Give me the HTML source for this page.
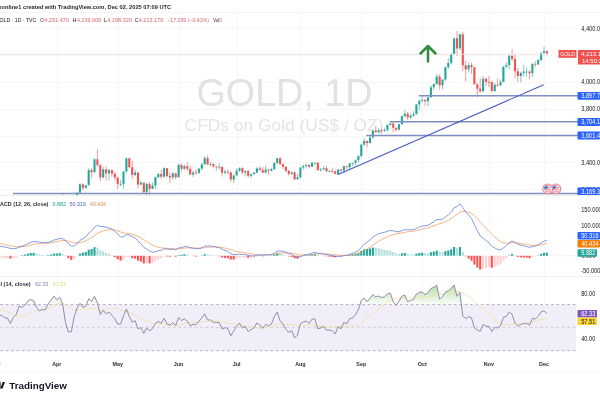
<!DOCTYPE html><html><head><meta charset="utf-8"><title>GOLD 1D chart</title><style>html,body{margin:0;padding:0;background:#fff;}body{width:600px;height:400px;overflow:hidden;}svg{display:block;filter:blur(0.4px);}text{font-family:'Liberation Sans', Arial, sans-serif;}</style></head><body>
<svg width="600" height="400" viewBox="0 0 600 400">
<defs><clipPath id="cp"><rect x="0" y="13" width="576" height="182"/></clipPath><clipPath id="cm"><rect x="0" y="196" width="576" height="80"/></clipPath><clipPath id="cr"><rect x="0" y="277" width="576" height="76"/></clipPath><linearGradient id="ob" gradientUnits="userSpaceOnUse" x1="0" y1="284.1" x2="0" y2="304.6"><stop offset="0" stop-color="#7cc46a" stop-opacity="0.6"/><stop offset="1" stop-color="#7cc46a" stop-opacity="0.02"/></linearGradient></defs>
<rect width="600" height="400" fill="#fff"/>
<rect x="0" y="12" width="600" height="1" fill="#f4f4f4"/>
<rect x="0" y="195" width="600" height="1" fill="#efefef"/>
<rect x="0" y="276" width="600" height="1" fill="#efefef"/>
<rect x="0" y="371" width="600" height="1" fill="#f7f7f7"/>
<line x1="-3.5" y1="13" x2="-3.5" y2="352" stroke="#f7f7f8" stroke-width="1"/><line x1="57.5" y1="13" x2="57.5" y2="352" stroke="#f7f7f8" stroke-width="1"/><line x1="118.5" y1="13" x2="118.5" y2="352" stroke="#f7f7f8" stroke-width="1"/><line x1="179.5" y1="13" x2="179.5" y2="352" stroke="#f7f7f8" stroke-width="1"/><line x1="237.5" y1="13" x2="237.5" y2="352" stroke="#f7f7f8" stroke-width="1"/><line x1="300.5" y1="13" x2="300.5" y2="352" stroke="#f7f7f8" stroke-width="1"/><line x1="361.5" y1="13" x2="361.5" y2="352" stroke="#f7f7f8" stroke-width="1"/><line x1="422.5" y1="13" x2="422.5" y2="352" stroke="#f7f7f8" stroke-width="1"/><line x1="489.5" y1="13" x2="489.5" y2="352" stroke="#f7f7f8" stroke-width="1"/><line x1="544.5" y1="13" x2="544.5" y2="352" stroke="#f7f7f8" stroke-width="1"/><line x1="0" y1="28.5" x2="576" y2="28.5" stroke="#f7f7f8" stroke-width="1"/><line x1="0" y1="55.5" x2="576" y2="55.5" stroke="#f7f7f8" stroke-width="1"/><line x1="0" y1="82.5" x2="576" y2="82.5" stroke="#f7f7f8" stroke-width="1"/><line x1="0" y1="109.5" x2="576" y2="109.5" stroke="#f7f7f8" stroke-width="1"/><line x1="0" y1="136.5" x2="576" y2="136.5" stroke="#f7f7f8" stroke-width="1"/><line x1="0" y1="162.5" x2="576" y2="162.5" stroke="#f7f7f8" stroke-width="1"/><line x1="0" y1="189.5" x2="576" y2="189.5" stroke="#f7f7f8" stroke-width="1"/>
<text x="196.50" y="105.50" font-size="38" fill="#e1e1e1" textLength="176.00" lengthAdjust="spacingAndGlyphs">GOLD, 1D</text>
<text x="184.60" y="130.60" font-size="17.2" fill="#e4e4e4" textLength="198.90" lengthAdjust="spacingAndGlyphs">CFDs on Gold (US$ / OZ)</text>
<g clip-path="url(#cp)"><line x1="56.80" y1="196.12" x2="56.80" y2="202.69" stroke="#ef5350" stroke-width="0.6"/><rect x="55.75" y="199.60" width="2.1" height="1.34" fill="#ef5350"/><line x1="59.70" y1="197.86" x2="59.70" y2="202.02" stroke="#26a69a" stroke-width="0.6"/><rect x="58.65" y="198.13" width="2.1" height="2.82" fill="#26a69a"/><line x1="62.60" y1="193.71" x2="62.60" y2="208.85" stroke="#ef5350" stroke-width="0.6"/><rect x="61.55" y="198.13" width="2.1" height="2.68" fill="#ef5350"/><line x1="65.50" y1="197.86" x2="65.50" y2="214.08" stroke="#ef5350" stroke-width="0.6"/><rect x="64.45" y="200.81" width="2.1" height="10.32" fill="#ef5350"/><line x1="68.40" y1="208.72" x2="68.40" y2="221.99" stroke="#ef5350" stroke-width="0.6"/><rect x="67.35" y="211.13" width="2.1" height="7.37" fill="#ef5350"/><line x1="71.30" y1="213.01" x2="71.30" y2="220.12" stroke="#26a69a" stroke-width="0.6"/><rect x="70.25" y="218.51" width="2.1" height="0.80" fill="#26a69a"/><line x1="74.20" y1="202.82" x2="74.20" y2="221.86" stroke="#26a69a" stroke-width="0.6"/><rect x="73.15" y="204.97" width="2.1" height="13.54" fill="#26a69a"/><line x1="77.10" y1="192.50" x2="77.10" y2="206.44" stroke="#26a69a" stroke-width="0.6"/><rect x="76.05" y="192.63" width="2.1" height="12.33" fill="#26a69a"/><line x1="80.00" y1="183.25" x2="80.00" y2="192.90" stroke="#26a69a" stroke-width="0.6"/><rect x="78.95" y="184.32" width="2.1" height="8.31" fill="#26a69a"/><line x1="82.90" y1="183.25" x2="82.90" y2="190.22" stroke="#ef5350" stroke-width="0.6"/><rect x="81.85" y="184.32" width="2.1" height="3.49" fill="#ef5350"/><line x1="85.80" y1="184.99" x2="85.80" y2="188.75" stroke="#26a69a" stroke-width="0.6"/><rect x="84.75" y="185.26" width="2.1" height="2.55" fill="#26a69a"/><line x1="88.70" y1="168.23" x2="88.70" y2="185.39" stroke="#26a69a" stroke-width="0.6"/><rect x="87.65" y="170.11" width="2.1" height="15.15" fill="#26a69a"/><line x1="91.60" y1="168.10" x2="91.60" y2="178.02" stroke="#ef5350" stroke-width="0.6"/><rect x="90.55" y="170.11" width="2.1" height="2.14" fill="#ef5350"/><line x1="94.50" y1="158.45" x2="94.50" y2="172.52" stroke="#26a69a" stroke-width="0.6"/><rect x="93.45" y="159.25" width="2.1" height="13.00" fill="#26a69a"/><line x1="97.40" y1="149.06" x2="97.40" y2="166.89" stroke="#ef5350" stroke-width="0.6"/><rect x="96.35" y="159.25" width="2.1" height="5.76" fill="#ef5350"/><line x1="100.30" y1="164.35" x2="100.30" y2="181.24" stroke="#ef5350" stroke-width="0.6"/><rect x="99.25" y="165.02" width="2.1" height="12.47" fill="#ef5350"/><line x1="103.20" y1="166.89" x2="103.20" y2="178.16" stroke="#26a69a" stroke-width="0.6"/><rect x="102.15" y="169.31" width="2.1" height="8.18" fill="#26a69a"/><line x1="106.10" y1="166.36" x2="106.10" y2="180.57" stroke="#ef5350" stroke-width="0.6"/><rect x="105.05" y="169.31" width="2.1" height="4.02" fill="#ef5350"/><line x1="109.00" y1="169.04" x2="109.00" y2="180.17" stroke="#26a69a" stroke-width="0.6"/><rect x="107.95" y="170.11" width="2.1" height="3.22" fill="#26a69a"/><line x1="111.90" y1="169.71" x2="111.90" y2="176.95" stroke="#ef5350" stroke-width="0.6"/><rect x="110.85" y="170.11" width="2.1" height="3.49" fill="#ef5350"/><line x1="114.80" y1="172.12" x2="114.80" y2="180.17" stroke="#ef5350" stroke-width="0.6"/><rect x="113.75" y="173.60" width="2.1" height="3.89" fill="#ef5350"/><line x1="117.70" y1="177.22" x2="117.70" y2="189.01" stroke="#ef5350" stroke-width="0.6"/><rect x="116.65" y="177.48" width="2.1" height="6.57" fill="#ef5350"/><line x1="120.60" y1="180.03" x2="120.60" y2="186.33" stroke="#26a69a" stroke-width="0.6"/><rect x="119.55" y="183.92" width="2.1" height="0.80" fill="#26a69a"/><line x1="123.50" y1="171.18" x2="123.50" y2="188.75" stroke="#26a69a" stroke-width="0.6"/><rect x="122.45" y="171.45" width="2.1" height="12.47" fill="#26a69a"/><line x1="126.40" y1="157.51" x2="126.40" y2="173.46" stroke="#26a69a" stroke-width="0.6"/><rect x="125.35" y="158.31" width="2.1" height="13.14" fill="#26a69a"/><line x1="129.30" y1="157.78" x2="129.30" y2="168.37" stroke="#ef5350" stroke-width="0.6"/><rect x="128.25" y="158.31" width="2.1" height="8.85" fill="#ef5350"/><line x1="132.20" y1="160.59" x2="132.20" y2="178.56" stroke="#ef5350" stroke-width="0.6"/><rect x="131.15" y="167.16" width="2.1" height="7.91" fill="#ef5350"/><line x1="135.10" y1="169.44" x2="135.10" y2="175.88" stroke="#26a69a" stroke-width="0.6"/><rect x="134.05" y="172.52" width="2.1" height="2.55" fill="#26a69a"/><line x1="138.00" y1="172.39" x2="138.00" y2="188.34" stroke="#ef5350" stroke-width="0.6"/><rect x="136.95" y="172.52" width="2.1" height="12.07" fill="#ef5350"/><line x1="140.90" y1="180.43" x2="140.90" y2="185.53" stroke="#26a69a" stroke-width="0.6"/><rect x="139.85" y="182.71" width="2.1" height="1.88" fill="#26a69a"/><line x1="143.80" y1="182.18" x2="143.80" y2="193.17" stroke="#ef5350" stroke-width="0.6"/><rect x="142.75" y="182.71" width="2.1" height="9.52" fill="#ef5350"/><line x1="146.70" y1="182.31" x2="146.70" y2="199.87" stroke="#26a69a" stroke-width="0.6"/><rect x="145.65" y="183.92" width="2.1" height="8.31" fill="#26a69a"/><line x1="149.60" y1="182.31" x2="149.60" y2="195.45" stroke="#ef5350" stroke-width="0.6"/><rect x="148.55" y="183.92" width="2.1" height="4.96" fill="#ef5350"/><line x1="152.50" y1="182.58" x2="152.50" y2="188.48" stroke="#26a69a" stroke-width="0.6"/><rect x="151.45" y="185.39" width="2.1" height="3.49" fill="#26a69a"/><line x1="155.40" y1="176.41" x2="155.40" y2="188.61" stroke="#26a69a" stroke-width="0.6"/><rect x="154.35" y="177.22" width="2.1" height="8.18" fill="#26a69a"/><line x1="158.30" y1="172.52" x2="158.30" y2="177.89" stroke="#26a69a" stroke-width="0.6"/><rect x="157.25" y="174.00" width="2.1" height="3.22" fill="#26a69a"/><line x1="161.20" y1="169.84" x2="161.20" y2="178.96" stroke="#ef5350" stroke-width="0.6"/><rect x="160.15" y="174.00" width="2.1" height="2.68" fill="#ef5350"/><line x1="164.10" y1="167.16" x2="164.10" y2="177.62" stroke="#26a69a" stroke-width="0.6"/><rect x="163.05" y="168.23" width="2.1" height="8.45" fill="#26a69a"/><line x1="167.00" y1="168.10" x2="167.00" y2="177.89" stroke="#ef5350" stroke-width="0.6"/><rect x="165.95" y="168.23" width="2.1" height="7.64" fill="#ef5350"/><line x1="169.90" y1="172.52" x2="169.90" y2="183.25" stroke="#ef5350" stroke-width="0.6"/><rect x="168.85" y="175.88" width="2.1" height="1.61" fill="#ef5350"/><line x1="172.80" y1="171.85" x2="172.80" y2="179.76" stroke="#26a69a" stroke-width="0.6"/><rect x="171.75" y="173.46" width="2.1" height="4.02" fill="#26a69a"/><line x1="175.70" y1="172.52" x2="175.70" y2="178.96" stroke="#ef5350" stroke-width="0.6"/><rect x="174.65" y="173.46" width="2.1" height="3.89" fill="#ef5350"/><line x1="178.60" y1="163.54" x2="178.60" y2="176.41" stroke="#26a69a" stroke-width="0.6"/><rect x="177.55" y="165.02" width="2.1" height="12.33" fill="#26a69a"/><line x1="181.50" y1="163.54" x2="181.50" y2="171.45" stroke="#ef5350" stroke-width="0.6"/><rect x="180.45" y="165.02" width="2.1" height="3.75" fill="#ef5350"/><line x1="184.40" y1="164.48" x2="184.40" y2="170.11" stroke="#26a69a" stroke-width="0.6"/><rect x="183.35" y="166.09" width="2.1" height="2.68" fill="#26a69a"/><line x1="187.30" y1="162.07" x2="187.30" y2="170.78" stroke="#ef5350" stroke-width="0.6"/><rect x="186.25" y="166.09" width="2.1" height="2.68" fill="#ef5350"/><line x1="190.20" y1="165.82" x2="190.20" y2="174.94" stroke="#ef5350" stroke-width="0.6"/><rect x="189.15" y="168.77" width="2.1" height="5.76" fill="#ef5350"/><line x1="193.10" y1="170.51" x2="193.10" y2="176.95" stroke="#26a69a" stroke-width="0.6"/><rect x="192.05" y="172.52" width="2.1" height="2.01" fill="#26a69a"/><line x1="196.00" y1="169.31" x2="196.00" y2="174.80" stroke="#ef5350" stroke-width="0.6"/><rect x="194.95" y="172.52" width="2.1" height="0.80" fill="#ef5350"/><line x1="198.90" y1="167.83" x2="198.90" y2="174.00" stroke="#26a69a" stroke-width="0.6"/><rect x="197.85" y="168.64" width="2.1" height="4.16" fill="#26a69a"/><line x1="201.80" y1="162.74" x2="201.80" y2="170.65" stroke="#26a69a" stroke-width="0.6"/><rect x="200.75" y="164.35" width="2.1" height="4.29" fill="#26a69a"/><line x1="204.70" y1="156.30" x2="204.70" y2="164.48" stroke="#26a69a" stroke-width="0.6"/><rect x="203.65" y="158.18" width="2.1" height="6.17" fill="#26a69a"/><line x1="207.60" y1="155.50" x2="207.60" y2="165.02" stroke="#ef5350" stroke-width="0.6"/><rect x="206.55" y="158.18" width="2.1" height="6.30" fill="#ef5350"/><line x1="210.50" y1="162.07" x2="210.50" y2="166.09" stroke="#26a69a" stroke-width="0.6"/><rect x="209.45" y="164.08" width="2.1" height="0.80" fill="#26a69a"/><line x1="213.40" y1="163.14" x2="213.40" y2="167.56" stroke="#ef5350" stroke-width="0.6"/><rect x="212.35" y="164.08" width="2.1" height="2.41" fill="#ef5350"/><line x1="216.30" y1="165.82" x2="216.30" y2="170.51" stroke="#ef5350" stroke-width="0.6"/><rect x="215.25" y="166.49" width="2.1" height="0.80" fill="#ef5350"/><line x1="219.20" y1="162.74" x2="219.20" y2="169.58" stroke="#26a69a" stroke-width="0.6"/><rect x="218.15" y="166.76" width="2.1" height="0.80" fill="#26a69a"/><line x1="222.10" y1="166.49" x2="222.10" y2="176.55" stroke="#ef5350" stroke-width="0.6"/><rect x="221.05" y="166.76" width="2.1" height="6.03" fill="#ef5350"/><line x1="225.00" y1="169.58" x2="225.00" y2="174.40" stroke="#26a69a" stroke-width="0.6"/><rect x="223.95" y="171.59" width="2.1" height="1.21" fill="#26a69a"/><line x1="227.90" y1="169.17" x2="227.90" y2="174.54" stroke="#ef5350" stroke-width="0.6"/><rect x="226.85" y="171.59" width="2.1" height="0.80" fill="#ef5350"/><line x1="230.80" y1="172.12" x2="230.80" y2="181.91" stroke="#ef5350" stroke-width="0.6"/><rect x="229.75" y="172.26" width="2.1" height="7.24" fill="#ef5350"/><line x1="233.70" y1="174.67" x2="233.70" y2="182.98" stroke="#26a69a" stroke-width="0.6"/><rect x="232.65" y="175.47" width="2.1" height="4.02" fill="#26a69a"/><line x1="236.60" y1="168.10" x2="236.60" y2="176.41" stroke="#26a69a" stroke-width="0.6"/><rect x="235.55" y="170.78" width="2.1" height="4.69" fill="#26a69a"/><line x1="239.50" y1="167.16" x2="239.50" y2="172.12" stroke="#26a69a" stroke-width="0.6"/><rect x="238.45" y="168.23" width="2.1" height="2.55" fill="#26a69a"/><line x1="242.40" y1="167.16" x2="242.40" y2="174.40" stroke="#ef5350" stroke-width="0.6"/><rect x="241.35" y="168.23" width="2.1" height="4.16" fill="#ef5350"/><line x1="245.30" y1="170.25" x2="245.30" y2="176.41" stroke="#26a69a" stroke-width="0.6"/><rect x="244.25" y="171.05" width="2.1" height="1.34" fill="#26a69a"/><line x1="248.20" y1="169.84" x2="248.20" y2="177.62" stroke="#ef5350" stroke-width="0.6"/><rect x="247.15" y="171.05" width="2.1" height="4.69" fill="#ef5350"/><line x1="251.10" y1="173.60" x2="251.10" y2="178.29" stroke="#26a69a" stroke-width="0.6"/><rect x="250.05" y="174.13" width="2.1" height="1.61" fill="#26a69a"/><line x1="254.00" y1="171.85" x2="254.00" y2="174.54" stroke="#26a69a" stroke-width="0.6"/><rect x="252.95" y="172.66" width="2.1" height="1.47" fill="#26a69a"/><line x1="256.90" y1="166.76" x2="256.90" y2="172.93" stroke="#26a69a" stroke-width="0.6"/><rect x="255.85" y="168.50" width="2.1" height="4.16" fill="#26a69a"/><line x1="259.80" y1="165.82" x2="259.80" y2="170.51" stroke="#ef5350" stroke-width="0.6"/><rect x="258.75" y="168.50" width="2.1" height="1.61" fill="#ef5350"/><line x1="262.70" y1="167.03" x2="262.70" y2="173.19" stroke="#ef5350" stroke-width="0.6"/><rect x="261.65" y="170.11" width="2.1" height="2.55" fill="#ef5350"/><line x1="265.60" y1="165.55" x2="265.60" y2="173.33" stroke="#26a69a" stroke-width="0.6"/><rect x="264.55" y="169.58" width="2.1" height="3.08" fill="#26a69a"/><line x1="268.50" y1="168.90" x2="268.50" y2="174.54" stroke="#ef5350" stroke-width="0.6"/><rect x="267.45" y="169.58" width="2.1" height="1.07" fill="#ef5350"/><line x1="271.40" y1="167.70" x2="271.40" y2="171.59" stroke="#26a69a" stroke-width="0.6"/><rect x="270.35" y="169.17" width="2.1" height="1.47" fill="#26a69a"/><line x1="274.30" y1="162.20" x2="274.30" y2="169.84" stroke="#26a69a" stroke-width="0.6"/><rect x="273.25" y="162.87" width="2.1" height="6.30" fill="#26a69a"/><line x1="277.20" y1="157.91" x2="277.20" y2="164.75" stroke="#26a69a" stroke-width="0.6"/><rect x="276.15" y="158.31" width="2.1" height="4.56" fill="#26a69a"/><line x1="280.10" y1="157.24" x2="280.10" y2="165.02" stroke="#ef5350" stroke-width="0.6"/><rect x="279.05" y="158.31" width="2.1" height="5.90" fill="#ef5350"/><line x1="283.00" y1="163.41" x2="283.00" y2="169.04" stroke="#ef5350" stroke-width="0.6"/><rect x="281.95" y="164.21" width="2.1" height="2.55" fill="#ef5350"/><line x1="285.90" y1="166.09" x2="285.90" y2="172.52" stroke="#ef5350" stroke-width="0.6"/><rect x="284.85" y="166.76" width="2.1" height="4.16" fill="#ef5350"/><line x1="288.80" y1="169.84" x2="288.80" y2="175.74" stroke="#ef5350" stroke-width="0.6"/><rect x="287.75" y="170.92" width="2.1" height="2.95" fill="#ef5350"/><line x1="291.70" y1="171.32" x2="291.70" y2="174.94" stroke="#26a69a" stroke-width="0.6"/><rect x="290.65" y="172.39" width="2.1" height="1.47" fill="#26a69a"/><line x1="294.60" y1="171.32" x2="294.60" y2="180.17" stroke="#ef5350" stroke-width="0.6"/><rect x="293.55" y="172.39" width="2.1" height="6.97" fill="#ef5350"/><line x1="297.50" y1="173.87" x2="297.50" y2="178.29" stroke="#26a69a" stroke-width="0.6"/><rect x="296.45" y="177.22" width="2.1" height="2.14" fill="#26a69a"/><line x1="300.40" y1="167.43" x2="300.40" y2="178.56" stroke="#26a69a" stroke-width="0.6"/><rect x="299.35" y="167.43" width="2.1" height="9.79" fill="#26a69a"/><line x1="303.30" y1="164.48" x2="303.30" y2="169.58" stroke="#26a69a" stroke-width="0.6"/><rect x="302.25" y="165.96" width="2.1" height="1.47" fill="#26a69a"/><line x1="306.20" y1="163.81" x2="306.20" y2="168.64" stroke="#26a69a" stroke-width="0.6"/><rect x="305.15" y="165.02" width="2.1" height="0.94" fill="#26a69a"/><line x1="309.10" y1="164.21" x2="309.10" y2="168.23" stroke="#ef5350" stroke-width="0.6"/><rect x="308.05" y="165.02" width="2.1" height="1.74" fill="#ef5350"/><line x1="312.00" y1="161.26" x2="312.00" y2="167.03" stroke="#26a69a" stroke-width="0.6"/><rect x="310.95" y="162.87" width="2.1" height="3.89" fill="#26a69a"/><line x1="314.90" y1="162.47" x2="314.90" y2="165.42" stroke="#26a69a" stroke-width="0.6"/><rect x="313.85" y="162.74" width="2.1" height="0.80" fill="#26a69a"/><line x1="317.80" y1="161.93" x2="317.80" y2="170.38" stroke="#ef5350" stroke-width="0.6"/><rect x="316.75" y="162.74" width="2.1" height="7.51" fill="#ef5350"/><line x1="320.70" y1="168.10" x2="320.70" y2="171.72" stroke="#26a69a" stroke-width="0.6"/><rect x="319.65" y="169.44" width="2.1" height="0.80" fill="#26a69a"/><line x1="323.60" y1="165.82" x2="323.60" y2="169.71" stroke="#26a69a" stroke-width="0.6"/><rect x="322.55" y="168.23" width="2.1" height="1.21" fill="#26a69a"/><line x1="326.50" y1="165.82" x2="326.50" y2="171.85" stroke="#ef5350" stroke-width="0.6"/><rect x="325.45" y="168.23" width="2.1" height="2.95" fill="#ef5350"/><line x1="329.40" y1="169.71" x2="329.40" y2="171.85" stroke="#26a69a" stroke-width="0.6"/><rect x="328.35" y="171.05" width="2.1" height="0.80" fill="#26a69a"/><line x1="332.30" y1="168.10" x2="332.30" y2="172.79" stroke="#ef5350" stroke-width="0.6"/><rect x="331.25" y="171.05" width="2.1" height="0.80" fill="#ef5350"/><line x1="335.20" y1="169.84" x2="335.20" y2="174.40" stroke="#ef5350" stroke-width="0.6"/><rect x="334.15" y="171.59" width="2.1" height="2.28" fill="#ef5350"/><line x1="338.10" y1="169.17" x2="338.10" y2="174.40" stroke="#26a69a" stroke-width="0.6"/><rect x="337.05" y="169.44" width="2.1" height="4.42" fill="#26a69a"/><line x1="341.00" y1="169.04" x2="341.00" y2="172.66" stroke="#ef5350" stroke-width="0.6"/><rect x="339.95" y="169.44" width="2.1" height="1.21" fill="#ef5350"/><line x1="343.90" y1="165.29" x2="343.90" y2="173.06" stroke="#26a69a" stroke-width="0.6"/><rect x="342.85" y="166.22" width="2.1" height="4.42" fill="#26a69a"/><line x1="346.80" y1="165.69" x2="346.80" y2="169.04" stroke="#ef5350" stroke-width="0.6"/><rect x="345.75" y="166.22" width="2.1" height="0.94" fill="#ef5350"/><line x1="349.70" y1="163.41" x2="349.70" y2="169.04" stroke="#26a69a" stroke-width="0.6"/><rect x="348.65" y="163.41" width="2.1" height="3.75" fill="#26a69a"/><line x1="352.60" y1="162.74" x2="352.60" y2="166.36" stroke="#26a69a" stroke-width="0.6"/><rect x="351.55" y="162.87" width="2.1" height="0.80" fill="#26a69a"/><line x1="355.50" y1="159.39" x2="355.50" y2="165.29" stroke="#26a69a" stroke-width="0.6"/><rect x="354.45" y="160.33" width="2.1" height="2.55" fill="#26a69a"/><line x1="358.40" y1="155.23" x2="358.40" y2="162.47" stroke="#26a69a" stroke-width="0.6"/><rect x="357.35" y="156.04" width="2.1" height="4.29" fill="#26a69a"/><line x1="361.30" y1="143.70" x2="361.30" y2="157.64" stroke="#26a69a" stroke-width="0.6"/><rect x="360.25" y="144.64" width="2.1" height="11.40" fill="#26a69a"/><line x1="364.20" y1="138.61" x2="364.20" y2="145.85" stroke="#26a69a" stroke-width="0.6"/><rect x="363.15" y="141.02" width="2.1" height="3.62" fill="#26a69a"/><line x1="367.10" y1="140.48" x2="367.10" y2="147.59" stroke="#ef5350" stroke-width="0.6"/><rect x="366.05" y="141.02" width="2.1" height="2.01" fill="#ef5350"/><line x1="370.00" y1="135.66" x2="370.00" y2="143.70" stroke="#26a69a" stroke-width="0.6"/><rect x="368.95" y="137.40" width="2.1" height="5.63" fill="#26a69a"/><line x1="372.90" y1="129.49" x2="372.90" y2="138.61" stroke="#26a69a" stroke-width="0.6"/><rect x="371.85" y="130.83" width="2.1" height="6.57" fill="#26a69a"/><line x1="375.80" y1="125.74" x2="375.80" y2="132.98" stroke="#ef5350" stroke-width="0.6"/><rect x="374.75" y="130.83" width="2.1" height="1.34" fill="#ef5350"/><line x1="378.70" y1="128.02" x2="378.70" y2="132.98" stroke="#26a69a" stroke-width="0.6"/><rect x="377.65" y="130.30" width="2.1" height="1.88" fill="#26a69a"/><line x1="381.60" y1="128.42" x2="381.60" y2="134.32" stroke="#ef5350" stroke-width="0.6"/><rect x="380.55" y="130.30" width="2.1" height="0.80" fill="#ef5350"/><line x1="384.50" y1="128.28" x2="384.50" y2="131.64" stroke="#26a69a" stroke-width="0.6"/><rect x="383.45" y="129.89" width="2.1" height="1.21" fill="#26a69a"/><line x1="387.40" y1="124.26" x2="387.40" y2="131.37" stroke="#26a69a" stroke-width="0.6"/><rect x="386.35" y="125.07" width="2.1" height="4.83" fill="#26a69a"/><line x1="390.30" y1="121.85" x2="390.30" y2="125.60" stroke="#26a69a" stroke-width="0.6"/><rect x="389.25" y="123.59" width="2.1" height="1.47" fill="#26a69a"/><line x1="393.20" y1="121.31" x2="393.20" y2="132.17" stroke="#ef5350" stroke-width="0.6"/><rect x="392.15" y="123.59" width="2.1" height="4.16" fill="#ef5350"/><line x1="396.10" y1="127.48" x2="396.10" y2="131.90" stroke="#ef5350" stroke-width="0.6"/><rect x="395.05" y="127.75" width="2.1" height="1.88" fill="#ef5350"/><line x1="399.00" y1="123.73" x2="399.00" y2="130.30" stroke="#26a69a" stroke-width="0.6"/><rect x="397.95" y="124.26" width="2.1" height="5.36" fill="#26a69a"/><line x1="401.90" y1="115.68" x2="401.90" y2="124.53" stroke="#26a69a" stroke-width="0.6"/><rect x="400.85" y="116.09" width="2.1" height="8.18" fill="#26a69a"/><line x1="404.80" y1="110.05" x2="404.80" y2="117.29" stroke="#26a69a" stroke-width="0.6"/><rect x="403.75" y="113.81" width="2.1" height="2.28" fill="#26a69a"/><line x1="407.70" y1="111.66" x2="407.70" y2="119.97" stroke="#ef5350" stroke-width="0.6"/><rect x="406.65" y="113.81" width="2.1" height="3.62" fill="#ef5350"/><line x1="410.60" y1="114.07" x2="410.60" y2="119.30" stroke="#26a69a" stroke-width="0.6"/><rect x="409.55" y="115.68" width="2.1" height="1.74" fill="#26a69a"/><line x1="413.50" y1="111.26" x2="413.50" y2="116.89" stroke="#26a69a" stroke-width="0.6"/><rect x="412.45" y="114.21" width="2.1" height="1.47" fill="#26a69a"/><line x1="416.40" y1="104.15" x2="416.40" y2="114.34" stroke="#26a69a" stroke-width="0.6"/><rect x="415.35" y="104.42" width="2.1" height="9.79" fill="#26a69a"/><line x1="419.30" y1="99.33" x2="419.30" y2="109.78" stroke="#26a69a" stroke-width="0.6"/><rect x="418.25" y="100.94" width="2.1" height="3.49" fill="#26a69a"/><line x1="422.20" y1="96.11" x2="422.20" y2="102.14" stroke="#26a69a" stroke-width="0.6"/><rect x="421.15" y="100.00" width="2.1" height="0.94" fill="#26a69a"/><line x1="425.10" y1="98.79" x2="425.10" y2="106.30" stroke="#ef5350" stroke-width="0.6"/><rect x="424.05" y="100.00" width="2.1" height="1.34" fill="#ef5350"/><line x1="428.00" y1="96.91" x2="428.00" y2="106.03" stroke="#26a69a" stroke-width="0.6"/><rect x="426.95" y="97.32" width="2.1" height="4.02" fill="#26a69a"/><line x1="430.90" y1="85.12" x2="430.90" y2="97.58" stroke="#26a69a" stroke-width="0.6"/><rect x="429.85" y="87.26" width="2.1" height="10.05" fill="#26a69a"/><line x1="433.80" y1="83.37" x2="433.80" y2="90.08" stroke="#26a69a" stroke-width="0.6"/><rect x="432.75" y="84.04" width="2.1" height="3.22" fill="#26a69a"/><line x1="436.70" y1="74.12" x2="436.70" y2="84.31" stroke="#26a69a" stroke-width="0.6"/><rect x="435.65" y="76.54" width="2.1" height="7.51" fill="#26a69a"/><line x1="439.60" y1="74.12" x2="439.60" y2="89.54" stroke="#ef5350" stroke-width="0.6"/><rect x="438.55" y="76.54" width="2.1" height="8.71" fill="#ef5350"/><line x1="442.50" y1="79.08" x2="442.50" y2="89.14" stroke="#26a69a" stroke-width="0.6"/><rect x="441.45" y="79.62" width="2.1" height="5.63" fill="#26a69a"/><line x1="445.40" y1="66.48" x2="445.40" y2="80.96" stroke="#26a69a" stroke-width="0.6"/><rect x="444.35" y="67.29" width="2.1" height="12.33" fill="#26a69a"/><line x1="448.30" y1="58.04" x2="448.30" y2="69.03" stroke="#26a69a" stroke-width="0.6"/><rect x="447.25" y="63.00" width="2.1" height="4.29" fill="#26a69a"/><line x1="451.20" y1="52.81" x2="451.20" y2="64.61" stroke="#26a69a" stroke-width="0.6"/><rect x="450.15" y="54.02" width="2.1" height="8.98" fill="#26a69a"/><line x1="454.10" y1="38.33" x2="454.10" y2="54.55" stroke="#26a69a" stroke-width="0.6"/><rect x="453.05" y="38.33" width="2.1" height="15.69" fill="#26a69a"/><line x1="457.00" y1="30.96" x2="457.00" y2="56.16" stroke="#ef5350" stroke-width="0.6"/><rect x="455.95" y="38.33" width="2.1" height="10.05" fill="#ef5350"/><line x1="459.90" y1="33.91" x2="459.90" y2="50.13" stroke="#26a69a" stroke-width="0.6"/><rect x="458.85" y="34.31" width="2.1" height="14.08" fill="#26a69a"/><line x1="462.80" y1="31.76" x2="462.80" y2="71.04" stroke="#ef5350" stroke-width="0.6"/><rect x="461.75" y="34.31" width="2.1" height="30.97" fill="#ef5350"/><line x1="465.70" y1="60.32" x2="465.70" y2="81.50" stroke="#ef5350" stroke-width="0.6"/><rect x="464.65" y="65.28" width="2.1" height="4.02" fill="#ef5350"/><line x1="468.60" y1="62.06" x2="468.60" y2="72.65" stroke="#26a69a" stroke-width="0.6"/><rect x="467.55" y="65.14" width="2.1" height="4.16" fill="#26a69a"/><line x1="471.50" y1="62.46" x2="471.50" y2="73.99" stroke="#ef5350" stroke-width="0.6"/><rect x="470.45" y="65.14" width="2.1" height="2.01" fill="#ef5350"/><line x1="474.40" y1="67.02" x2="474.40" y2="83.78" stroke="#ef5350" stroke-width="0.6"/><rect x="473.35" y="67.15" width="2.1" height="17.29" fill="#ef5350"/><line x1="477.30" y1="82.97" x2="477.30" y2="97.32" stroke="#ef5350" stroke-width="0.6"/><rect x="476.25" y="84.45" width="2.1" height="4.16" fill="#ef5350"/><line x1="480.20" y1="78.01" x2="480.20" y2="93.03" stroke="#ef5350" stroke-width="0.6"/><rect x="479.15" y="88.60" width="2.1" height="2.68" fill="#ef5350"/><line x1="483.10" y1="75.87" x2="483.10" y2="91.69" stroke="#26a69a" stroke-width="0.6"/><rect x="482.05" y="78.82" width="2.1" height="12.47" fill="#26a69a"/><line x1="486.00" y1="77.48" x2="486.00" y2="86.06" stroke="#ef5350" stroke-width="0.6"/><rect x="484.95" y="78.82" width="2.1" height="2.95" fill="#ef5350"/><line x1="488.90" y1="76.14" x2="488.90" y2="87.26" stroke="#ef5350" stroke-width="0.6"/><rect x="487.85" y="81.77" width="2.1" height="0.80" fill="#ef5350"/><line x1="491.80" y1="80.43" x2="491.80" y2="91.42" stroke="#ef5350" stroke-width="0.6"/><rect x="490.75" y="82.03" width="2.1" height="9.12" fill="#ef5350"/><line x1="494.70" y1="82.84" x2="494.70" y2="91.69" stroke="#26a69a" stroke-width="0.6"/><rect x="493.65" y="84.72" width="2.1" height="6.43" fill="#26a69a"/><line x1="497.60" y1="78.41" x2="497.60" y2="86.86" stroke="#ef5350" stroke-width="0.6"/><rect x="496.55" y="84.72" width="2.1" height="0.80" fill="#ef5350"/><line x1="500.50" y1="79.49" x2="500.50" y2="86.32" stroke="#26a69a" stroke-width="0.6"/><rect x="499.45" y="82.03" width="2.1" height="3.08" fill="#26a69a"/><line x1="503.40" y1="66.48" x2="503.40" y2="82.03" stroke="#26a69a" stroke-width="0.6"/><rect x="502.35" y="66.62" width="2.1" height="15.42" fill="#26a69a"/><line x1="506.30" y1="62.06" x2="506.30" y2="68.36" stroke="#26a69a" stroke-width="0.6"/><rect x="505.25" y="65.01" width="2.1" height="1.61" fill="#26a69a"/><line x1="509.20" y1="54.02" x2="509.20" y2="69.43" stroke="#26a69a" stroke-width="0.6"/><rect x="508.15" y="55.89" width="2.1" height="9.12" fill="#26a69a"/><line x1="512.10" y1="49.19" x2="512.10" y2="61.25" stroke="#ef5350" stroke-width="0.6"/><rect x="511.05" y="55.89" width="2.1" height="3.08" fill="#ef5350"/><line x1="515.00" y1="53.88" x2="515.00" y2="77.74" stroke="#ef5350" stroke-width="0.6"/><rect x="513.95" y="58.98" width="2.1" height="12.33" fill="#ef5350"/><line x1="517.90" y1="67.96" x2="517.90" y2="81.77" stroke="#ef5350" stroke-width="0.6"/><rect x="516.85" y="71.31" width="2.1" height="4.69" fill="#ef5350"/><line x1="520.80" y1="71.58" x2="520.80" y2="82.30" stroke="#26a69a" stroke-width="0.6"/><rect x="519.75" y="72.92" width="2.1" height="3.08" fill="#26a69a"/><line x1="523.70" y1="64.61" x2="523.70" y2="76.67" stroke="#26a69a" stroke-width="0.6"/><rect x="522.65" y="71.58" width="2.1" height="1.34" fill="#26a69a"/><line x1="526.60" y1="67.42" x2="526.60" y2="76.67" stroke="#26a69a" stroke-width="0.6"/><rect x="525.55" y="71.58" width="2.1" height="0.80" fill="#26a69a"/><line x1="529.50" y1="70.10" x2="529.50" y2="79.35" stroke="#ef5350" stroke-width="0.6"/><rect x="528.45" y="71.58" width="2.1" height="1.74" fill="#ef5350"/><line x1="532.40" y1="63.40" x2="532.40" y2="76.94" stroke="#26a69a" stroke-width="0.6"/><rect x="531.35" y="63.80" width="2.1" height="9.52" fill="#26a69a"/><line x1="535.30" y1="61.12" x2="535.30" y2="67.56" stroke="#ef5350" stroke-width="0.6"/><rect x="534.25" y="63.80" width="2.1" height="0.80" fill="#ef5350"/><line x1="538.20" y1="59.24" x2="538.20" y2="64.87" stroke="#26a69a" stroke-width="0.6"/><rect x="537.15" y="60.05" width="2.1" height="4.42" fill="#26a69a"/><line x1="541.10" y1="52.81" x2="541.10" y2="61.12" stroke="#26a69a" stroke-width="0.6"/><rect x="540.05" y="52.81" width="2.1" height="7.24" fill="#26a69a"/><line x1="544.00" y1="46.51" x2="544.00" y2="55.22" stroke="#26a69a" stroke-width="0.6"/><rect x="542.95" y="51.14" width="2.1" height="1.67" fill="#26a69a"/><line x1="546.90" y1="50.40" x2="546.90" y2="55.45" stroke="#ef5350" stroke-width="0.6"/><rect x="545.85" y="51.00" width="2.1" height="2.45" fill="#ef5350"/></g>
<line x1="0" y1="54.3" x2="545" y2="54.3" stroke="#efe2e2" stroke-width="0.9"/>
<line x1="12.9" y1="193.40" x2="578" y2="193.40" stroke="#7b8fc0" stroke-width="1.5"/>
<line x1="366.3" y1="135.47" x2="578" y2="135.47" stroke="#7b8fc0" stroke-width="1.5"/>
<line x1="390" y1="121.70" x2="578" y2="121.70" stroke="#7b8fc0" stroke-width="1.5"/>
<line x1="418.9" y1="95.75" x2="578" y2="95.75" stroke="#7b8fc0" stroke-width="1.5"/>
<line x1="337.5" y1="174.8" x2="543.7" y2="84.8" stroke="#4459c2" stroke-width="1.05"/>
<path d="M420.5,53.5 L428,46 L435.5,53.5 M428,46.5 L428,61.5" stroke="#2f8a3c" stroke-width="2.5" fill="none" stroke-linecap="round" stroke-linejoin="round"/>
<g clip-path="url(#cm)"><rect x="-5.15" y="255.75" width="2.1" height="3.69" fill="#ffcdd2"/><rect x="-2.25" y="255.75" width="2.1" height="3.12" fill="#ffcdd2"/><rect x="0.65" y="255.75" width="2.1" height="2.67" fill="#ffcdd2"/><rect x="3.55" y="255.75" width="2.1" height="2.54" fill="#ffcdd2"/><rect x="6.45" y="255.75" width="2.1" height="2.44" fill="#ffcdd2"/><rect x="9.35" y="255.75" width="2.1" height="2.74" fill="#ff5252"/><rect x="12.25" y="255.75" width="2.1" height="2.33" fill="#ffcdd2"/><rect x="15.15" y="255.75" width="2.1" height="1.73" fill="#ffcdd2"/><rect x="18.05" y="255.75" width="2.1" height="0.30" fill="#ffcdd2"/><rect x="20.95" y="255.27" width="2.1" height="0.48" fill="#26a69a"/><rect x="23.85" y="254.58" width="2.1" height="1.17" fill="#26a69a"/><rect x="26.75" y="253.63" width="2.1" height="2.12" fill="#26a69a"/><rect x="29.65" y="252.98" width="2.1" height="2.77" fill="#26a69a"/><rect x="32.55" y="252.90" width="2.1" height="2.85" fill="#26a69a"/><rect x="35.45" y="253.50" width="2.1" height="2.25" fill="#b2dfdb"/><rect x="38.35" y="254.32" width="2.1" height="1.43" fill="#b2dfdb"/><rect x="41.25" y="254.87" width="2.1" height="0.88" fill="#b2dfdb"/><rect x="44.15" y="255.39" width="2.1" height="0.36" fill="#b2dfdb"/><rect x="47.05" y="255.11" width="2.1" height="0.64" fill="#26a69a"/><rect x="49.95" y="254.54" width="2.1" height="1.21" fill="#26a69a"/><rect x="52.85" y="253.60" width="2.1" height="2.15" fill="#26a69a"/><rect x="55.75" y="253.46" width="2.1" height="2.29" fill="#26a69a"/><rect x="58.65" y="253.22" width="2.1" height="2.53" fill="#26a69a"/><rect x="61.55" y="253.72" width="2.1" height="2.03" fill="#b2dfdb"/><rect x="64.45" y="255.75" width="2.1" height="0.30" fill="#ff5252"/><rect x="67.35" y="255.75" width="2.1" height="2.53" fill="#ff5252"/><rect x="70.25" y="255.75" width="2.1" height="4.09" fill="#ff5252"/><rect x="73.15" y="255.75" width="2.1" height="3.02" fill="#ffcdd2"/><rect x="76.05" y="255.75" width="2.1" height="0.51" fill="#ffcdd2"/><rect x="78.95" y="253.57" width="2.1" height="2.18" fill="#26a69a"/><rect x="81.85" y="252.63" width="2.1" height="3.12" fill="#26a69a"/><rect x="84.75" y="251.96" width="2.1" height="3.79" fill="#26a69a"/><rect x="87.65" y="249.67" width="2.1" height="6.08" fill="#26a69a"/><rect x="90.55" y="249.02" width="2.1" height="6.73" fill="#26a69a"/><rect x="93.45" y="247.24" width="2.1" height="8.51" fill="#26a69a"/><rect x="96.35" y="247.60" width="2.1" height="8.15" fill="#b2dfdb"/><rect x="99.25" y="250.26" width="2.1" height="5.49" fill="#b2dfdb"/><rect x="102.15" y="251.24" width="2.1" height="4.51" fill="#b2dfdb"/><rect x="105.05" y="252.91" width="2.1" height="2.84" fill="#b2dfdb"/><rect x="107.95" y="253.87" width="2.1" height="1.88" fill="#b2dfdb"/><rect x="110.85" y="255.31" width="2.1" height="0.44" fill="#b2dfdb"/><rect x="113.75" y="255.75" width="2.1" height="1.29" fill="#ff5252"/><rect x="116.65" y="255.75" width="2.1" height="3.49" fill="#ff5252"/><rect x="119.55" y="255.75" width="2.1" height="4.90" fill="#ff5252"/><rect x="122.45" y="255.75" width="2.1" height="3.93" fill="#ffcdd2"/><rect x="125.35" y="255.75" width="2.1" height="1.42" fill="#ffcdd2"/><rect x="128.25" y="255.75" width="2.1" height="1.25" fill="#ffcdd2"/><rect x="131.15" y="255.75" width="2.1" height="2.44" fill="#ff5252"/><rect x="134.05" y="255.75" width="2.1" height="2.88" fill="#ff5252"/><rect x="136.95" y="255.75" width="2.1" height="4.94" fill="#ff5252"/><rect x="139.85" y="255.75" width="2.1" height="5.88" fill="#ff5252"/><rect x="142.75" y="255.75" width="2.1" height="7.71" fill="#ff5252"/><rect x="145.65" y="255.75" width="2.1" height="7.39" fill="#ffcdd2"/><rect x="148.55" y="255.75" width="2.1" height="7.65" fill="#ff5252"/><rect x="151.45" y="255.75" width="2.1" height="7.02" fill="#ffcdd2"/><rect x="154.35" y="255.75" width="2.1" height="5.17" fill="#ffcdd2"/><rect x="157.25" y="255.75" width="2.1" height="3.35" fill="#ffcdd2"/><rect x="160.15" y="255.75" width="2.1" height="2.50" fill="#ffcdd2"/><rect x="163.05" y="255.75" width="2.1" height="0.69" fill="#ffcdd2"/><rect x="165.95" y="255.75" width="2.1" height="0.69" fill="#ff5252"/><rect x="168.85" y="255.75" width="2.1" height="0.96" fill="#ff5252"/><rect x="171.75" y="255.75" width="2.1" height="0.56" fill="#ffcdd2"/><rect x="174.65" y="255.75" width="2.1" height="0.91" fill="#ff5252"/><rect x="177.55" y="255.10" width="2.1" height="0.65" fill="#26a69a"/><rect x="180.45" y="254.77" width="2.1" height="0.98" fill="#26a69a"/><rect x="183.35" y="254.29" width="2.1" height="1.46" fill="#26a69a"/><rect x="186.25" y="254.52" width="2.1" height="1.23" fill="#b2dfdb"/><rect x="189.15" y="255.64" width="2.1" height="0.30" fill="#b2dfdb"/><rect x="192.05" y="255.75" width="2.1" height="0.38" fill="#ff5252"/><rect x="194.95" y="255.75" width="2.1" height="0.78" fill="#ff5252"/><rect x="197.85" y="255.75" width="2.1" height="0.45" fill="#ffcdd2"/><rect x="200.75" y="255.42" width="2.1" height="0.33" fill="#26a69a"/><rect x="203.65" y="254.12" width="2.1" height="1.63" fill="#26a69a"/><rect x="206.55" y="254.38" width="2.1" height="1.37" fill="#b2dfdb"/><rect x="209.45" y="254.64" width="2.1" height="1.11" fill="#b2dfdb"/><rect x="212.35" y="255.28" width="2.1" height="0.47" fill="#b2dfdb"/><rect x="215.25" y="255.75" width="2.1" height="0.30" fill="#ff5252"/><rect x="218.15" y="255.75" width="2.1" height="0.50" fill="#ff5252"/><rect x="221.05" y="255.75" width="2.1" height="1.69" fill="#ff5252"/><rect x="223.95" y="255.75" width="2.1" height="2.25" fill="#ff5252"/><rect x="226.85" y="255.75" width="2.1" height="2.65" fill="#ff5252"/><rect x="229.75" y="255.75" width="2.1" height="3.87" fill="#ff5252"/><rect x="232.65" y="255.75" width="2.1" height="3.91" fill="#ff5252"/><rect x="235.55" y="255.75" width="2.1" height="3.09" fill="#ffcdd2"/><rect x="238.45" y="255.75" width="2.1" height="2.09" fill="#ffcdd2"/><rect x="241.35" y="255.75" width="2.1" height="1.99" fill="#ffcdd2"/><rect x="244.25" y="255.75" width="2.1" height="1.65" fill="#ffcdd2"/><rect x="247.15" y="255.75" width="2.1" height="2.07" fill="#ff5252"/><rect x="250.05" y="255.75" width="2.1" height="2.00" fill="#ffcdd2"/><rect x="252.95" y="255.75" width="2.1" height="1.66" fill="#ffcdd2"/><rect x="255.85" y="255.75" width="2.1" height="0.77" fill="#ffcdd2"/><rect x="258.75" y="255.75" width="2.1" height="0.41" fill="#ffcdd2"/><rect x="261.65" y="255.75" width="2.1" height="0.55" fill="#ff5252"/><rect x="264.55" y="255.75" width="2.1" height="0.30" fill="#ffcdd2"/><rect x="267.45" y="255.75" width="2.1" height="0.30" fill="#ffcdd2"/><rect x="270.35" y="255.57" width="2.1" height="0.30" fill="#26a69a"/><rect x="273.25" y="254.51" width="2.1" height="1.24" fill="#26a69a"/><rect x="276.15" y="253.26" width="2.1" height="2.49" fill="#26a69a"/><rect x="279.05" y="253.48" width="2.1" height="2.27" fill="#b2dfdb"/><rect x="281.95" y="254.13" width="2.1" height="1.62" fill="#b2dfdb"/><rect x="284.85" y="255.25" width="2.1" height="0.50" fill="#b2dfdb"/><rect x="287.75" y="255.75" width="2.1" height="0.69" fill="#ff5252"/><rect x="290.65" y="255.75" width="2.1" height="1.20" fill="#ff5252"/><rect x="293.55" y="255.75" width="2.1" height="2.50" fill="#ff5252"/><rect x="296.45" y="255.75" width="2.1" height="2.89" fill="#ff5252"/><rect x="299.35" y="255.75" width="2.1" height="1.57" fill="#ffcdd2"/><rect x="302.25" y="255.75" width="2.1" height="0.45" fill="#ffcdd2"/><rect x="305.15" y="255.35" width="2.1" height="0.40" fill="#26a69a"/><rect x="308.05" y="255.10" width="2.1" height="0.65" fill="#26a69a"/><rect x="310.95" y="254.42" width="2.1" height="1.33" fill="#26a69a"/><rect x="313.85" y="254.05" width="2.1" height="1.70" fill="#26a69a"/><rect x="316.75" y="255.02" width="2.1" height="0.73" fill="#b2dfdb"/><rect x="319.65" y="255.56" width="2.1" height="0.30" fill="#b2dfdb"/><rect x="322.55" y="255.75" width="2.1" height="0.30" fill="#ff5252"/><rect x="325.45" y="255.75" width="2.1" height="0.57" fill="#ff5252"/><rect x="328.35" y="255.75" width="2.1" height="0.89" fill="#ff5252"/><rect x="331.25" y="255.75" width="2.1" height="1.14" fill="#ff5252"/><rect x="334.15" y="255.75" width="2.1" height="1.58" fill="#ff5252"/><rect x="337.05" y="255.75" width="2.1" height="1.13" fill="#ffcdd2"/><rect x="339.95" y="255.75" width="2.1" height="0.98" fill="#ffcdd2"/><rect x="342.85" y="255.75" width="2.1" height="0.30" fill="#ffcdd2"/><rect x="345.75" y="255.57" width="2.1" height="0.30" fill="#26a69a"/><rect x="348.65" y="254.81" width="2.1" height="0.94" fill="#26a69a"/><rect x="351.55" y="254.31" width="2.1" height="1.44" fill="#26a69a"/><rect x="354.45" y="253.71" width="2.1" height="2.04" fill="#26a69a"/><rect x="357.35" y="252.83" width="2.1" height="2.92" fill="#26a69a"/><rect x="360.25" y="250.80" width="2.1" height="4.95" fill="#26a69a"/><rect x="363.15" y="249.29" width="2.1" height="6.46" fill="#26a69a"/><rect x="366.05" y="249.02" width="2.1" height="6.73" fill="#26a69a"/><rect x="368.95" y="248.45" width="2.1" height="7.30" fill="#26a69a"/><rect x="371.85" y="247.60" width="2.1" height="8.15" fill="#26a69a"/><rect x="374.75" y="247.78" width="2.1" height="7.97" fill="#b2dfdb"/><rect x="377.65" y="248.16" width="2.1" height="7.59" fill="#b2dfdb"/><rect x="380.55" y="249.04" width="2.1" height="6.71" fill="#b2dfdb"/><rect x="383.45" y="249.92" width="2.1" height="5.83" fill="#b2dfdb"/><rect x="386.35" y="250.23" width="2.1" height="5.52" fill="#b2dfdb"/><rect x="389.25" y="250.68" width="2.1" height="5.07" fill="#b2dfdb"/><rect x="392.15" y="252.01" width="2.1" height="3.74" fill="#b2dfdb"/><rect x="395.05" y="253.51" width="2.1" height="2.24" fill="#b2dfdb"/><rect x="397.95" y="253.98" width="2.1" height="1.77" fill="#b2dfdb"/><rect x="400.85" y="253.39" width="2.1" height="2.36" fill="#26a69a"/><rect x="403.75" y="253.02" width="2.1" height="2.73" fill="#26a69a"/><rect x="406.65" y="253.67" width="2.1" height="2.08" fill="#b2dfdb"/><rect x="409.55" y="254.15" width="2.1" height="1.60" fill="#b2dfdb"/><rect x="412.45" y="254.54" width="2.1" height="1.21" fill="#b2dfdb"/><rect x="415.35" y="253.66" width="2.1" height="2.09" fill="#26a69a"/><rect x="418.25" y="252.94" width="2.1" height="2.81" fill="#26a69a"/><rect x="421.15" y="252.73" width="2.1" height="3.02" fill="#26a69a"/><rect x="424.05" y="253.20" width="2.1" height="2.55" fill="#b2dfdb"/><rect x="426.95" y="253.29" width="2.1" height="2.46" fill="#b2dfdb"/><rect x="429.85" y="252.27" width="2.1" height="3.48" fill="#26a69a"/><rect x="432.75" y="251.61" width="2.1" height="4.14" fill="#26a69a"/><rect x="435.65" y="250.59" width="2.1" height="5.16" fill="#26a69a"/><rect x="438.55" y="251.78" width="2.1" height="3.97" fill="#b2dfdb"/><rect x="441.45" y="252.20" width="2.1" height="3.55" fill="#b2dfdb"/><rect x="444.35" y="251.16" width="2.1" height="4.59" fill="#26a69a"/><rect x="447.25" y="250.44" width="2.1" height="5.31" fill="#26a69a"/><rect x="450.15" y="249.29" width="2.1" height="6.46" fill="#26a69a"/><rect x="453.05" y="246.96" width="2.1" height="8.79" fill="#26a69a"/><rect x="455.95" y="247.78" width="2.1" height="7.97" fill="#b2dfdb"/><rect x="458.85" y="247.05" width="2.1" height="8.70" fill="#26a69a"/><rect x="461.75" y="251.94" width="2.1" height="3.81" fill="#b2dfdb"/><rect x="464.65" y="255.75" width="2.1" height="0.44" fill="#ff5252"/><rect x="467.55" y="255.75" width="2.1" height="2.88" fill="#ff5252"/><rect x="470.45" y="255.75" width="2.1" height="4.95" fill="#ff5252"/><rect x="473.35" y="255.75" width="2.1" height="8.88" fill="#ff5252"/><rect x="476.25" y="255.75" width="2.1" height="11.85" fill="#ff5252"/><rect x="479.15" y="255.75" width="2.1" height="13.82" fill="#ff5252"/><rect x="482.05" y="255.75" width="2.1" height="12.83" fill="#ffcdd2"/><rect x="484.95" y="255.75" width="2.1" height="12.24" fill="#ffcdd2"/><rect x="487.85" y="255.75" width="2.1" height="11.52" fill="#ffcdd2"/><rect x="490.75" y="255.75" width="2.1" height="12.01" fill="#ff5252"/><rect x="493.65" y="255.75" width="2.1" height="10.95" fill="#ffcdd2"/><rect x="496.55" y="255.75" width="2.1" height="9.94" fill="#ffcdd2"/><rect x="499.45" y="255.75" width="2.1" height="8.49" fill="#ffcdd2"/><rect x="502.35" y="255.75" width="2.1" height="5.02" fill="#ffcdd2"/><rect x="505.25" y="255.75" width="2.1" height="2.47" fill="#ffcdd2"/><rect x="508.15" y="255.28" width="2.1" height="0.47" fill="#26a69a"/><rect x="511.05" y="254.03" width="2.1" height="1.72" fill="#26a69a"/><rect x="513.95" y="255.24" width="2.1" height="0.51" fill="#b2dfdb"/><rect x="516.85" y="255.75" width="2.1" height="1.07" fill="#ff5252"/><rect x="519.75" y="255.75" width="2.1" height="1.68" fill="#ff5252"/><rect x="522.65" y="255.75" width="2.1" height="1.89" fill="#ff5252"/><rect x="525.55" y="255.75" width="2.1" height="2.03" fill="#ff5252"/><rect x="528.45" y="255.75" width="2.1" height="2.37" fill="#ff5252"/><rect x="531.35" y="255.75" width="2.1" height="1.17" fill="#ffcdd2"/><rect x="534.25" y="255.75" width="2.1" height="0.55" fill="#ffcdd2"/><rect x="537.15" y="255.34" width="2.1" height="0.41" fill="#26a69a"/><rect x="540.05" y="253.80" width="2.1" height="1.95" fill="#26a69a"/><rect x="542.95" y="252.79" width="2.1" height="2.96" fill="#26a69a"/><rect x="545.85" y="252.76" width="2.1" height="2.99" fill="#26a69a"/><polyline points="-4.10,242.36 -1.20,243.13 1.70,243.80 4.60,244.44 7.50,245.05 10.40,245.74 13.30,246.32 16.20,246.75 19.10,246.82 22.00,246.70 24.90,246.41 27.80,245.88 30.70,245.18 33.60,244.47 36.50,243.91 39.40,243.55 42.30,243.33 45.20,243.24 48.10,243.08 51.00,242.78 53.90,242.24 56.80,241.67 59.70,241.03 62.60,240.53 65.50,240.53 68.40,241.17 71.30,242.19 74.20,242.94 77.10,243.07 80.00,242.53 82.90,241.75 85.80,240.80 88.70,239.28 91.60,237.60 94.50,235.47 97.40,233.43 100.30,232.06 103.20,230.93 106.10,230.22 109.00,229.75 111.90,229.64 114.80,229.96 117.70,230.84 120.60,232.06 123.50,233.04 126.40,233.40 129.30,233.71 132.20,234.32 135.10,235.04 138.00,236.27 140.90,237.74 143.80,239.67 146.70,241.52 149.60,243.43 152.50,245.19 155.40,246.48 158.30,247.32 161.20,247.94 164.10,248.11 167.00,248.29 169.90,248.53 172.80,248.67 175.70,248.89 178.60,248.73 181.50,248.48 184.40,248.12 187.30,247.81 190.20,247.78 193.10,247.88 196.00,248.07 198.90,248.19 201.80,248.10 204.70,247.70 207.60,247.36 210.50,247.08 213.40,246.96 216.30,246.98 219.20,247.11 222.10,247.53 225.00,248.09 227.90,248.75 230.80,249.72 233.70,250.70 236.60,251.47 239.50,251.99 242.40,252.49 245.30,252.90 248.20,253.42 251.10,253.92 254.00,254.34 256.90,254.53 259.80,254.63 262.70,254.77 265.60,254.81 268.50,254.83 271.40,254.79 274.30,254.48 277.20,253.86 280.10,253.29 283.00,252.88 285.90,252.76 288.80,252.93 291.70,253.23 294.60,253.86 297.50,254.58 300.40,254.97 303.30,255.08 306.20,254.98 309.10,254.82 312.00,254.49 314.90,254.06 317.80,253.88 320.70,253.83 323.60,253.83 326.50,253.97 329.40,254.20 332.30,254.48 335.20,254.88 338.10,255.16 341.00,255.41 343.90,255.45 346.80,255.41 349.70,255.17 352.60,254.81 355.50,254.31 358.40,253.58 361.30,252.34 364.20,250.72 367.10,249.04 370.00,247.22 372.90,245.18 375.80,243.19 378.70,241.29 381.60,239.61 384.50,238.15 387.40,236.77 390.30,235.50 393.20,234.57 396.10,234.01 399.00,233.57 401.90,232.98 404.80,232.29 407.70,231.77 410.60,231.37 413.50,231.07 416.40,230.55 419.30,229.84 422.20,229.09 425.10,228.45 428.00,227.83 430.90,226.96 433.80,225.93 436.70,224.64 439.60,223.65 442.50,222.76 445.40,221.61 448.30,220.29 451.20,218.67 454.10,216.47 457.00,214.48 459.90,212.31 462.80,211.36 465.70,211.47 468.60,212.19 471.50,213.42 474.40,215.64 477.30,218.61 480.20,222.06 483.10,225.27 486.00,228.33 488.90,231.21 491.80,234.21 494.70,236.95 497.60,239.43 500.50,241.55 503.40,242.81 506.30,243.43 509.20,243.31 512.10,242.88 515.00,242.75 517.90,243.02 520.80,243.44 523.70,243.91 526.60,244.42 529.50,245.01 532.40,245.30 535.30,245.44 538.20,245.34 541.10,244.85 544.00,244.11 546.90,243.36" fill="none" stroke="#f59a5a" stroke-width="0.75"/><polyline points="-4.10,246.04 -1.20,246.25 1.70,246.48 4.60,246.98 7.50,247.49 10.40,248.48 13.30,248.65 16.20,248.48 19.10,247.09 22.00,246.22 24.90,245.23 27.80,243.76 30.70,242.42 33.60,241.62 36.50,241.66 39.40,242.13 42.30,242.45 45.20,242.88 48.10,242.44 51.00,241.56 53.90,240.09 56.80,239.38 59.70,238.50 62.60,238.50 65.50,240.56 68.40,243.69 71.30,246.28 74.20,245.96 77.10,243.58 80.00,240.35 82.90,238.63 85.80,237.01 88.70,233.20 91.60,230.87 94.50,226.96 97.40,225.28 100.30,226.57 103.20,226.43 106.10,227.38 109.00,227.87 111.90,229.20 114.80,231.25 117.70,234.33 120.60,236.96 123.50,236.97 126.40,234.81 129.30,234.97 132.20,236.76 135.10,237.91 138.00,241.21 140.90,243.63 143.80,247.38 146.70,248.91 149.60,251.08 152.50,252.21 155.40,251.65 158.30,250.67 161.20,250.45 164.10,248.80 167.00,248.98 169.90,249.48 172.80,249.22 175.70,249.80 178.60,248.08 181.50,247.50 184.40,246.65 187.30,246.58 190.20,247.68 193.10,248.26 196.00,248.85 198.90,248.64 201.80,247.78 204.70,246.07 207.60,245.99 210.50,245.96 213.40,246.49 216.30,247.06 219.20,247.61 222.10,249.22 225.00,250.34 227.90,251.40 230.80,253.60 233.70,254.61 236.60,254.57 239.50,254.08 242.40,254.48 245.30,254.56 248.20,255.49 251.10,255.92 254.00,256.00 256.90,255.30 259.80,255.05 262.70,255.32 265.60,254.98 268.50,254.92 271.40,254.61 274.30,253.24 277.20,251.37 280.10,251.02 283.00,251.26 285.90,252.26 288.80,253.62 291.70,254.43 294.60,256.36 297.50,257.47 300.40,256.54 303.30,255.54 306.20,254.58 309.10,254.17 312.00,253.15 314.90,252.36 317.80,253.15 320.70,253.64 323.60,253.84 326.50,254.55 329.40,255.09 332.30,255.62 335.20,256.45 338.10,256.30 341.00,256.38 343.90,255.64 346.80,255.23 349.70,254.24 352.60,253.38 355.50,252.27 358.40,250.66 361.30,247.39 364.20,244.27 367.10,242.31 370.00,239.92 372.90,237.03 375.80,235.22 378.70,233.70 381.60,232.90 384.50,232.32 387.40,231.25 390.30,230.43 393.20,230.83 396.10,231.76 399.00,231.80 401.90,230.61 404.80,229.56 407.70,229.69 410.60,229.77 413.50,229.86 416.40,228.45 419.30,227.03 422.20,226.07 425.10,225.90 428.00,225.37 430.90,223.49 433.80,221.79 436.70,219.49 439.60,219.67 442.50,219.21 445.40,217.03 448.30,214.98 451.20,212.21 454.10,207.69 457.00,206.52 459.90,203.61 462.80,207.54 465.70,211.90 468.60,215.07 471.50,218.37 474.40,224.53 477.30,230.46 480.20,235.88 483.10,238.10 486.00,240.57 488.90,242.72 491.80,246.22 494.70,247.89 497.60,249.37 500.50,250.04 503.40,247.83 506.30,245.90 509.20,242.84 512.10,241.16 515.00,242.24 517.90,244.09 520.80,245.12 523.70,245.80 526.60,246.45 529.50,247.38 532.40,246.47 535.30,245.99 538.20,244.92 541.10,242.90 544.00,241.15 546.90,240.37" fill="none" stroke="#5a78e0" stroke-width="0.75"/></g>
<line x1="549.9" y1="255.75" x2="576" y2="255.75" stroke="#c4c4c8" stroke-width="0.6" stroke-dasharray="1.5,2.2"/>
<g clip-path="url(#cr)"><rect x="0" y="304.57" width="576.5" height="46.10" fill="#f1eef9"/><polygon points="-4.10,304.57 -4.10,304.57 -1.20,304.57 1.70,304.57 4.60,304.57 7.50,304.57 10.40,304.57 13.30,304.57 16.20,304.57 19.10,304.57 22.00,304.57 24.90,304.57 27.80,300.95 30.70,299.51 33.60,300.82 36.50,304.57 39.40,304.57 42.30,304.57 45.20,304.57 48.10,303.83 51.00,300.23 53.90,296.08 56.80,299.65 59.70,297.40 62.60,303.76 65.50,304.57 68.40,304.57 71.30,304.57 74.20,304.57 77.10,304.57 80.00,303.27 82.90,304.57 85.80,304.57 88.70,298.82 91.60,301.39 94.50,296.32 97.40,302.70 100.30,304.57 103.20,304.57 106.10,304.57 109.00,304.57 111.90,304.57 114.80,304.57 117.70,304.57 120.60,304.57 123.50,304.57 126.40,304.57 129.30,304.57 132.20,304.57 135.10,304.57 138.00,304.57 140.90,304.57 143.80,304.57 146.70,304.57 149.60,304.57 152.50,304.57 155.40,304.57 158.30,304.57 161.20,304.57 164.10,304.57 167.00,304.57 169.90,304.57 172.80,304.57 175.70,304.57 178.60,304.57 181.50,304.57 184.40,304.57 187.30,304.57 190.20,304.57 193.10,304.57 196.00,304.57 198.90,304.57 201.80,304.57 204.70,304.57 207.60,304.57 210.50,304.57 213.40,304.57 216.30,304.57 219.20,304.57 222.10,304.57 225.00,304.57 227.90,304.57 230.80,304.57 233.70,304.57 236.60,304.57 239.50,304.57 242.40,304.57 245.30,304.57 248.20,304.57 251.10,304.57 254.00,304.57 256.90,304.57 259.80,304.57 262.70,304.57 265.60,304.57 268.50,304.57 271.40,304.57 274.30,304.57 277.20,304.57 280.10,304.57 283.00,304.57 285.90,304.57 288.80,304.57 291.70,304.57 294.60,304.57 297.50,304.57 300.40,304.57 303.30,304.57 306.20,304.57 309.10,304.57 312.00,304.57 314.90,304.57 317.80,304.57 320.70,304.57 323.60,304.57 326.50,304.57 329.40,304.57 332.30,304.57 335.20,304.57 338.10,304.57 341.00,304.57 343.90,304.57 346.80,304.57 349.70,304.57 352.60,304.57 355.50,304.57 358.40,304.57 361.30,300.26 364.20,297.99 367.10,301.75 370.00,298.11 372.90,294.58 375.80,297.03 378.70,295.98 381.60,297.56 384.50,296.79 387.40,293.95 390.30,293.14 393.20,301.73 396.10,304.57 399.00,301.20 401.90,296.17 404.80,294.97 407.70,301.58 410.60,300.43 413.50,299.45 416.40,293.97 419.30,292.38 422.20,291.96 425.10,294.61 428.00,292.56 430.90,288.45 433.80,287.36 436.70,285.14 439.60,299.12 442.50,296.56 445.40,292.01 448.30,290.69 451.20,288.23 454.10,284.93 457.00,296.21 459.90,292.44 462.80,304.57 465.70,304.57 468.60,304.57 471.50,304.57 474.40,304.57 477.30,304.57 480.20,304.57 483.10,304.57 486.00,304.57 488.90,304.57 491.80,304.57 494.70,304.57 497.60,304.57 500.50,304.57 503.40,304.57 506.30,304.57 509.20,304.57 512.10,304.57 515.00,304.57 517.90,304.57 520.80,304.57 523.70,304.57 526.60,304.57 529.50,304.57 532.40,304.57 535.30,304.57 538.20,304.57 541.10,304.57 544.00,304.57 546.90,304.57 546.90,304.57" fill="url(#ob)"/><line x1="0.3" y1="304.57" x2="576" y2="304.57" stroke="#a2a2ac" stroke-width="0.8" stroke-dasharray="2.7,2.7"/><line x1="0.3" y1="327.32" x2="576" y2="327.32" stroke="#c4c4cc" stroke-width="0.8" stroke-dasharray="2.7,2.7"/><line x1="0.3" y1="350.68" x2="576" y2="350.68" stroke="#a2a2ac" stroke-width="0.8" stroke-dasharray="2.7,2.7"/><polyline points="-4.10,307.23 -1.20,308.71 1.70,310.35 4.60,311.05 7.50,311.93 10.40,313.53 13.30,314.67 16.20,315.64 19.10,315.92 22.00,316.46 24.90,315.96 27.80,315.19 30.70,313.49 33.60,311.60 36.50,310.70 39.40,310.36 42.30,309.95 45.20,309.38 48.10,308.37 51.00,306.70 53.90,305.16 56.80,304.10 59.70,303.48 62.60,303.22 65.50,304.46 68.40,306.66 71.30,308.98 74.20,310.12 77.10,310.15 80.00,309.61 82.90,309.47 85.80,309.20 88.70,308.84 91.60,308.92 94.50,308.94 97.40,309.16 100.30,310.38 103.20,310.85 106.10,310.24 109.00,308.83 111.90,307.65 114.80,307.78 117.70,308.93 120.60,310.42 123.50,311.00 126.40,311.22 129.30,312.47 132.20,313.96 135.10,315.69 138.00,317.56 140.90,318.50 143.80,320.14 146.70,321.14 149.60,322.47 152.50,323.42 155.40,323.75 158.30,323.55 161.20,323.51 164.10,323.68 167.00,324.74 169.90,325.37 172.80,325.38 175.70,325.72 178.60,324.92 181.50,324.42 184.40,323.38 187.30,322.90 190.20,322.54 193.10,322.24 196.00,322.33 198.90,322.32 201.80,321.94 204.70,321.62 207.60,321.35 210.50,320.97 213.40,320.96 216.30,320.75 219.20,321.10 222.10,321.71 225.00,322.34 227.90,322.86 230.80,323.58 233.70,324.06 236.60,324.16 239.50,324.31 242.40,325.02 245.30,325.92 248.20,326.75 251.10,327.45 254.00,327.85 256.90,327.89 259.80,328.08 262.70,328.03 265.60,327.79 268.50,327.61 271.40,326.77 274.30,325.73 277.20,324.75 280.10,324.56 283.00,324.28 285.90,324.47 288.80,324.53 291.70,324.60 294.60,325.32 297.50,326.17 300.40,326.06 303.30,325.61 306.20,325.37 309.10,325.18 312.00,324.84 314.90,325.01 317.80,326.20 320.70,326.71 323.60,326.88 326.50,326.95 329.40,326.77 332.30,326.79 335.20,326.50 338.10,325.92 341.00,326.29 343.90,326.30 346.80,326.50 349.70,326.16 352.60,326.08 355.50,325.78 358.40,324.41 361.30,322.44 364.20,320.41 367.10,318.39 370.00,316.11 372.90,313.53 375.80,310.89 378.70,308.68 381.60,306.46 384.50,304.64 387.40,302.51 390.30,300.68 393.20,299.52 396.10,298.86 399.00,298.24 401.90,297.95 404.80,297.74 407.70,297.72 410.60,297.89 413.50,298.24 416.40,298.02 419.30,297.76 422.20,297.36 425.10,297.21 428.00,297.11 430.90,296.77 433.80,295.75 436.70,294.30 439.60,294.15 442.50,294.18 445.40,293.97 448.30,293.19 451.20,292.32 454.10,291.28 457.00,291.44 459.90,291.45 462.80,293.17 465.70,294.87 468.60,296.59 471.50,298.70 474.40,301.59 477.30,304.79 480.20,307.09 483.10,309.09 486.00,311.53 488.90,314.07 491.80,317.17 494.70,320.22 497.60,322.48 500.50,324.87 503.40,324.95 506.30,324.81 509.20,324.48 512.10,324.23 515.00,323.90 517.90,323.64 520.80,323.14 523.70,323.07 526.60,322.89 529.50,322.79 532.40,321.85 535.30,321.24 538.20,320.41 541.10,319.40 544.00,318.95 546.90,318.73" fill="none" stroke="#efe4a4" stroke-width="0.9"/><polyline points="-4.10,320.05 -1.20,315.62 1.70,315.27 4.60,317.73 7.50,318.02 10.40,323.57 13.30,317.60 16.20,314.56 19.10,306.04 22.00,307.49 24.90,305.13 27.80,300.95 30.70,299.51 33.60,300.82 36.50,307.51 39.40,310.83 42.30,309.50 45.20,309.83 48.10,303.83 51.00,300.23 53.90,296.08 56.80,299.65 59.70,297.40 62.60,303.76 65.50,322.49 68.40,331.87 71.30,331.87 74.20,316.85 77.10,307.88 80.00,303.27 82.90,307.53 85.80,306.06 88.70,298.82 91.60,301.39 94.50,296.32 97.40,302.70 100.30,314.49 103.20,310.40 106.10,313.86 109.00,312.17 111.90,315.29 114.80,318.69 117.70,324.10 120.60,324.00 123.50,315.78 126.40,309.06 129.30,316.36 132.20,322.16 135.10,320.67 138.00,328.81 140.90,327.58 143.80,333.41 146.70,327.85 149.60,330.88 152.50,328.52 155.40,323.31 158.30,321.37 161.20,323.37 164.10,318.21 167.00,323.93 169.90,325.10 172.80,322.40 175.70,325.42 178.60,317.56 181.50,320.54 184.40,318.87 187.30,321.13 190.20,325.82 193.10,324.31 196.00,324.55 198.90,321.25 201.80,318.04 204.70,313.79 207.60,320.09 210.50,319.78 213.40,322.23 216.30,322.51 219.20,322.51 222.10,329.03 225.00,327.72 227.90,328.47 230.80,335.85 233.70,331.05 236.60,325.93 239.50,323.32 242.40,327.97 245.30,326.48 248.20,331.60 251.10,329.66 254.00,327.86 256.90,323.02 259.80,325.10 262.70,328.34 265.60,324.48 268.50,325.93 271.40,324.00 274.30,316.60 277.20,312.12 280.10,320.72 283.00,324.05 285.90,329.13 288.80,332.47 291.70,330.51 294.60,337.96 297.50,334.99 300.40,323.53 303.30,322.05 306.20,321.07 309.10,323.36 312.00,319.12 314.90,318.98 317.80,328.88 320.70,327.88 323.60,326.32 326.50,330.17 329.40,329.98 332.30,330.73 335.20,333.90 338.10,326.90 341.00,328.70 343.90,322.27 346.80,323.79 349.70,318.68 352.60,317.98 355.50,314.70 358.40,309.77 361.30,300.26 364.20,297.99 367.10,301.75 370.00,298.11 372.90,294.58 375.80,297.03 378.70,295.98 381.60,297.56 384.50,296.79 387.40,293.95 390.30,293.14 393.20,301.73 396.10,305.35 399.00,301.20 401.90,296.17 404.80,294.97 407.70,301.58 410.60,300.43 413.50,299.45 416.40,293.97 419.30,292.38 422.20,291.96 425.10,294.61 428.00,292.56 430.90,288.45 433.80,287.36 436.70,285.14 439.60,299.12 442.50,296.56 445.40,292.01 448.30,290.69 451.20,288.23 454.10,284.93 457.00,296.21 459.90,292.44 462.80,316.07 465.70,318.43 468.60,316.65 471.50,317.93 474.40,327.86 477.30,329.97 480.20,331.34 483.10,324.50 486.00,326.16 488.90,326.32 491.80,331.55 494.70,327.62 497.60,327.87 500.50,325.89 503.40,317.23 506.30,316.42 509.20,312.04 512.10,314.46 515.00,323.26 517.90,326.26 520.80,324.38 523.70,323.55 526.60,323.55 529.50,324.93 532.40,318.48 535.30,319.07 538.20,316.17 541.10,311.83 544.00,310.88 546.90,313.32" fill="none" stroke="#8a86a8" stroke-width="0.95"/></g>
<text x="581.20" y="30.71" font-size="6.6" fill="#131722" textLength="22.09" lengthAdjust="spacingAndGlyphs">4,400.00</text>
<text x="581.20" y="84.33" font-size="6.6" fill="#131722" textLength="22.09" lengthAdjust="spacingAndGlyphs">4,000.00</text>
<text x="581.20" y="111.15" font-size="6.6" fill="#131722" textLength="22.09" lengthAdjust="spacingAndGlyphs">3,800.00</text>
<text x="581.20" y="164.77" font-size="6.6" fill="#131722" textLength="22.09" lengthAdjust="spacingAndGlyphs">3,400.00</text>
<rect x="577.5" y="92.0" width="22.5" height="7.75" rx="0.8" fill="#2962ff"/>
<text x="581.20" y="98.17" font-size="6.6" fill="#fff" textLength="18.94" lengthAdjust="spacingAndGlyphs">3,897.7</text>
<rect x="577.5" y="118.0" width="22.5" height="7.900000000000006" rx="0.8" fill="#2962ff"/>
<text x="581.20" y="124.25" font-size="6.6" fill="#fff" textLength="18.94" lengthAdjust="spacingAndGlyphs">3,704.1</text>
<rect x="577.5" y="131.6" width="22.5" height="7.800000000000011" rx="0.8" fill="#2962ff"/>
<text x="581.20" y="137.80" font-size="6.6" fill="#fff" textLength="18.94" lengthAdjust="spacingAndGlyphs">3,601.4</text>
<text x="581.20" y="191.58" font-size="6.6" fill="#131722" textLength="22.09" lengthAdjust="spacingAndGlyphs">3,200.00</text>
<rect x="577.5" y="187.6" width="22.5" height="7.5" rx="0.8" fill="#2962ff"/>
<text x="581.20" y="193.65" font-size="6.6" fill="#fff" textLength="18.94" lengthAdjust="spacingAndGlyphs">3,169.3</text>
<rect x="558.5" y="50" width="18" height="7.8" fill="#ef5350"/>
<text x="560.20" y="56.10" font-size="6.0" fill="#fff" textLength="14.80" lengthAdjust="spacingAndGlyphs">GOLD</text>
<rect x="578" y="50" width="22" height="14.5" fill="#ef5350"/>
<text x="581.20" y="56.10" font-size="6.0" fill="#fff">4,213.17</text>
<text x="582.00" y="62.60" font-size="6.0" fill="#fff">14:50:22</text>
<clipPath id="fl0"><circle cx="555.8" cy="188.9" r="3.7"/></clipPath>
<circle cx="555.8" cy="188.9" r="4.9" fill="#fff" stroke="#e8808c" stroke-width="1.1"/>
<g clip-path="url(#fl0)"><rect x="551.8" y="185.20" width="8" height="1.06" fill="#e05a6a"/><rect x="551.8" y="186.26" width="8" height="1.06" fill="#fbe9ec"/><rect x="551.8" y="187.32" width="8" height="1.06" fill="#e05a6a"/><rect x="551.8" y="188.38" width="8" height="1.06" fill="#fbe9ec"/><rect x="551.8" y="189.44" width="8" height="1.06" fill="#e05a6a"/><rect x="551.8" y="190.50" width="8" height="1.06" fill="#fbe9ec"/><rect x="551.8" y="191.56" width="8" height="1.06" fill="#e05a6a"/><rect x="551.8" y="185.20000000000002" width="3.9" height="3.7" fill="#4f7fd0"/></g>
<clipPath id="fl1"><circle cx="547.7" cy="188.9" r="3.7"/></clipPath>
<circle cx="547.7" cy="188.9" r="4.9" fill="#fff" stroke="#e8808c" stroke-width="1.1"/>
<g clip-path="url(#fl1)"><rect x="543.7" y="185.20" width="8" height="1.06" fill="#e05a6a"/><rect x="543.7" y="186.26" width="8" height="1.06" fill="#fbe9ec"/><rect x="543.7" y="187.32" width="8" height="1.06" fill="#e05a6a"/><rect x="543.7" y="188.38" width="8" height="1.06" fill="#fbe9ec"/><rect x="543.7" y="189.44" width="8" height="1.06" fill="#e05a6a"/><rect x="543.7" y="190.50" width="8" height="1.06" fill="#fbe9ec"/><rect x="543.7" y="191.56" width="8" height="1.06" fill="#e05a6a"/><rect x="543.7" y="185.20000000000002" width="3.9" height="3.7" fill="#4f7fd0"/></g>
<text x="581.20" y="212.30" font-size="6.6" fill="#131722" textLength="20.52" lengthAdjust="spacingAndGlyphs">150.000</text>
<text x="581.20" y="227.55" font-size="6.6" fill="#131722" textLength="20.52" lengthAdjust="spacingAndGlyphs">100.000</text>
<text x="581.20" y="273.30" font-size="6.6" fill="#131722" textLength="19.25" lengthAdjust="spacingAndGlyphs">-50.000</text>
<rect x="577.5" y="232.0" width="22.5" height="7.400000000000006" rx="0.8" fill="#2962ff"/>
<text x="581.20" y="238.00" font-size="6.6" fill="#fff" textLength="17.36" lengthAdjust="spacingAndGlyphs">50.316</text>
<rect x="577.5" y="240.0" width="22.5" height="7.400000000000006" rx="0.8" fill="#f57c00"/>
<text x="581.20" y="246.00" font-size="6.6" fill="#fff" textLength="17.36" lengthAdjust="spacingAndGlyphs">40.434</text>
<text x="581.20" y="258.05" font-size="6.6" fill="#131722" textLength="14.20" lengthAdjust="spacingAndGlyphs">0.000</text>
<rect x="577.5" y="249.3" width="19.5" height="7.5" rx="0.8" fill="#26a69a"/>
<text x="581.20" y="255.35" font-size="6.6" fill="#fff" textLength="14.20" lengthAdjust="spacingAndGlyphs">9.882</text>
<text x="581.20" y="295.50" font-size="6.6" fill="#131722" textLength="14.20" lengthAdjust="spacingAndGlyphs">80.00</text>
<text x="581.20" y="341.00" font-size="6.6" fill="#131722" textLength="14.20" lengthAdjust="spacingAndGlyphs">40.00</text>
<rect x="577.5" y="310.0" width="19.5" height="7.5" rx="0.8" fill="#7e57c2"/>
<text x="581.20" y="316.05" font-size="6.6" fill="#fff" textLength="14.20" lengthAdjust="spacingAndGlyphs">62.33</text>
<rect x="577.5" y="317.5" width="19.5" height="7.5" rx="0.8" fill="#fdd835"/>
<text x="581.20" y="323.55" font-size="6.6" fill="#131722" textLength="14.20" lengthAdjust="spacingAndGlyphs">57.51</text>
<text x="-8.90" y="366.30" font-size="5.8" fill="#2a2e39" font-weight="bold" textLength="9.59" lengthAdjust="spacingAndGlyphs">Mar</text>
<text x="52.16" y="366.30" font-size="5.8" fill="#2a2e39" font-weight="bold" textLength="9.29" lengthAdjust="spacingAndGlyphs">Apr</text>
<text x="112.45" y="366.30" font-size="5.8" fill="#2a2e39" font-weight="bold" textLength="10.49" lengthAdjust="spacingAndGlyphs">May</text>
<text x="173.81" y="366.30" font-size="5.8" fill="#2a2e39" font-weight="bold" textLength="9.59" lengthAdjust="spacingAndGlyphs">Jun</text>
<text x="232.70" y="366.30" font-size="5.8" fill="#2a2e39" font-weight="bold" textLength="7.79" lengthAdjust="spacingAndGlyphs">Jul</text>
<text x="295.16" y="366.30" font-size="5.8" fill="#2a2e39" font-weight="bold" textLength="10.48" lengthAdjust="spacingAndGlyphs">Aug</text>
<text x="356.35" y="366.30" font-size="5.8" fill="#2a2e39" font-weight="bold" textLength="9.89" lengthAdjust="spacingAndGlyphs">Sep</text>
<text x="417.70" y="366.30" font-size="5.8" fill="#2a2e39" font-weight="bold" textLength="8.99" lengthAdjust="spacingAndGlyphs">Oct</text>
<text x="483.81" y="366.30" font-size="5.8" fill="#2a2e39" font-weight="bold" textLength="10.19" lengthAdjust="spacingAndGlyphs">Nov</text>
<text x="539.05" y="366.30" font-size="5.8" fill="#2a2e39" font-weight="bold" textLength="9.89" lengthAdjust="spacingAndGlyphs">Dec</text>
<text x="1.50" y="9.30" font-size="6.0" fill="#1e222d" font-weight="bold" textLength="169.70" lengthAdjust="spacingAndGlyphs">online1 created with TradingView.com, Dec 02, 2025 07:09 UTC</text>
<text x="1.50" y="9.30" font-size="6.0" fill="#1e222d" font-weight="bold" text-anchor="end">Forex</text>
<text x="-4.60" y="21.90" font-size="6.0" fill="#131722" textLength="40.90" lengthAdjust="spacingAndGlyphs">GOLD · 1D · TVC</text>
<text x="40.30" y="21.90" font-size="6.0" fill="#131722" textLength="3.50" lengthAdjust="spacingAndGlyphs">O</text>
<text x="44.40" y="21.90" font-size="6.0" fill="#e2646e" textLength="24.40" lengthAdjust="spacingAndGlyphs">4,231.470</text>
<text x="72.60" y="21.90" font-size="6.0" fill="#131722" textLength="4.00" lengthAdjust="spacingAndGlyphs">H</text>
<text x="76.90" y="21.90" font-size="6.0" fill="#e2646e" textLength="24.10" lengthAdjust="spacingAndGlyphs">4,236.000</text>
<text x="103.90" y="21.90" font-size="6.0" fill="#131722" textLength="3.10" lengthAdjust="spacingAndGlyphs">L</text>
<text x="107.20" y="21.90" font-size="6.0" fill="#e2646e" textLength="24.80" lengthAdjust="spacingAndGlyphs">4,198.320</text>
<text x="134.80" y="21.90" font-size="6.0" fill="#131722" textLength="3.80" lengthAdjust="spacingAndGlyphs">C</text>
<text x="138.80" y="21.90" font-size="6.0" fill="#e2646e" textLength="24.40" lengthAdjust="spacingAndGlyphs">4,213.170</text>
<text x="167.30" y="21.90" font-size="6.0" fill="#e2646e" textLength="41.70" lengthAdjust="spacingAndGlyphs">−17.269 (−0.41%)</text>
<text x="213.30" y="21.90" font-size="6.0" fill="#131722" textLength="5.60" lengthAdjust="spacingAndGlyphs">Vol</text>
<text x="218.90" y="21.90" font-size="6.0" fill="#e2646e" textLength="2.90" lengthAdjust="spacingAndGlyphs">0</text>
<text x="-4.40" y="205.60" font-size="6.0" fill="#2a2e39" font-weight="bold" textLength="52.80" lengthAdjust="spacingAndGlyphs">MACD (12, 26, close)</text>
<text x="52.40" y="205.60" font-size="6.0" fill="#26a69a" textLength="13.60" lengthAdjust="spacingAndGlyphs">9.882</text>
<text x="69.60" y="205.60" font-size="6.0" fill="#4863c8" textLength="16.40" lengthAdjust="spacingAndGlyphs">50.316</text>
<text x="90.00" y="205.60" font-size="6.0" fill="#e8884a" textLength="16.00" lengthAdjust="spacingAndGlyphs">40.434</text>
<text x="-7.20" y="286.20" font-size="6.0" fill="#2a2e39" font-weight="bold" textLength="37.90" lengthAdjust="spacingAndGlyphs">RSI (14, close)</text>
<text x="35.30" y="286.20" font-size="6.0" fill="#7c74b0" textLength="12.70" lengthAdjust="spacingAndGlyphs">62.33</text>
<text x="52.70" y="286.20" font-size="6.0" fill="#e2dc70" textLength="13.30" lengthAdjust="spacingAndGlyphs">57.51</text>
<rect x="-3" y="381.9" width="3.6" height="6.7" fill="#131722"/>
<path d="M2.7,381.9 L5.0,381.9 L2.6,388.6 L0.4,388.6 Z" fill="#131722"/>
<text x="9.20" y="388.60" font-size="9.5" fill="#131722" font-weight="bold" textLength="57.80" lengthAdjust="spacingAndGlyphs">TradingView</text>
</svg></body></html>
